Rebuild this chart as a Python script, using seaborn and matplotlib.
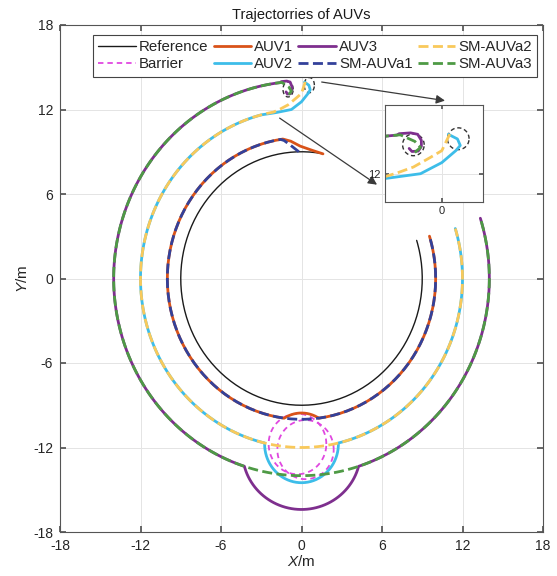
import numpy as np
import matplotlib
matplotlib.use("Agg")
import matplotlib.pyplot as plt
import seaborn as sns

# ---- values (metres / degrees) ----
# each arc: (centre x, centre y, radius x, radius y, start angle, end angle)
REF_ARC = (0, 0, 9.0, 9.0, 80, 377.5)

AUV1_HOOK_X = [1.6, 0.8, -0.1, -0.8, -1.39]
AUV1_HOOK_Y = [8.85, 9.1, 9.4, 9.75, 9.9]
AUV1_ARCS = [(0, 0, 10, 10, 98, 262.5), (0, -12, 2.45, 2.45, 122, 58),
             (0, 0, 10, 10, 277.5, 377.5)]

SM1_HOOK_X = [-0.2, -0.8, -1.3]
SM1_HOOK_Y = [9.0, 9.45, 9.8]
SM1_ARCS = [(0, 0, 10, 10, 99, 377.5)]

AUV2_HOOK_X = [0.23, 0.55, 0.65, 0.5, 0.0, -0.75, -1.9]
AUV2_HOOK_Y = [13.95, 13.72, 13.4, 13.15, 12.55, 12.0, 11.78]
AUV2_ARCS = [(0, 0, 12, 12, 104.5, 256.75), (0, -11.75, 2.75, 2.75, 180, 360),
             (0, 0, 12, 12, 283.25, 377.2)]

SM2_HOOK_X = [0.28, 0.0, -0.41, -1.0, -1.55]
SM2_HOOK_Y = [13.96, 13.14, 12.8, 12.33, 12.05]
SM2_ARCS = [(0, 0, 12, 12, 100, 377.2)]

AUV3_HOOK_X = [-1.15, -1.05, -0.83, -0.72, -0.72, -0.85, -1.1, -1.5]
AUV3_HOOK_Y = [13.25, 13.1, 13.12, 13.35, 13.65, 13.95, 14.02, 13.98]
AUV3_ARCS = [(0, 0, 14, 14, 96.5, 252.3), (0, -12.3, 4.4, 4.1, 195, 345),
             (0, 0, 14, 14, 287.7, 377.8)]

SM3_HOOK_X = [-0.95, -0.75, -0.95, -1.35]
SM3_HOOK_Y = [13.05, 13.3, 13.6, 13.85]
SM3_ARCS = [(0, 0, 14, 14, 96, 377.8)]

BARRIERS = [(-0.3, -11.75, 2.15, 2.15, 0, 360), (0.3, -12.15, 2.1, 2.1, 0, 360)]
OBSTACLES = [(-1.0, 13.43, 0.38, 0.54, 0, 360), (0.58, 13.73, 0.38, 0.54, 0, 360)]

TICKS = [-18, -12, -6, 0, 6, 12, 18]
INSET_XLIM = (-2.0, 1.45)
INSET_YLIM = (10.6, 15.4)

COLORS = {
    "Reference": "#1a1a1a", "Barrier": "#e048e0",
    "AUV1": "#d95319", "AUV2": "#3dbde9", "AUV3": "#7e2f8e",
    "SM-AUVa1": "#33419a", "SM-AUVa2": "#f9c95b", "SM-AUVa3": "#4e9a45",
}


def arc(cx, cy, rx, ry, a0, a1):
    n = max(int(abs(a1 - a0) / 1.5), 8)
    t = np.radians(np.linspace(a0, a1, n))
    return cx + rx * np.cos(t), cy + ry * np.sin(t)


def build(hx, hy, arcs):
    xs, ys = [np.asarray(hx, float)], [np.asarray(hy, float)]
    for a in arcs:
        x, y = arc(*a)
        xs.append(x)
        ys.append(y)
    return np.concatenate(xs), np.concatenate(ys)


paths = {
    "Reference": build([], [], [REF_ARC]),
    "AUV1": build(AUV1_HOOK_X, AUV1_HOOK_Y, AUV1_ARCS),
    "AUV2": build(AUV2_HOOK_X, AUV2_HOOK_Y, AUV2_ARCS),
    "AUV3": build(AUV3_HOOK_X, AUV3_HOOK_Y, AUV3_ARCS),
    "SM-AUVa1": build(SM1_HOOK_X, SM1_HOOK_Y, SM1_ARCS),
    "SM-AUVa2": build(SM2_HOOK_X, SM2_HOOK_Y, SM2_ARCS),
    "SM-AUVa3": build(SM3_HOOK_X, SM3_HOOK_Y, SM3_ARCS),
}

DASH = (0, (3.6, 1.6))
STYLES = {
    "Reference": dict(lw=1.0, linestyle="-"),
    "AUV1": dict(lw=2.0, linestyle="-"),
    "AUV2": dict(lw=2.0, linestyle="-"),
    "AUV3": dict(lw=2.0, linestyle="-"),
    "SM-AUVa1": dict(lw=2.0, linestyle=DASH),
    "SM-AUVa2": dict(lw=2.0, linestyle=DASH),
    "SM-AUVa3": dict(lw=2.0, linestyle=DASH),
}

sns.set_theme(style="ticks")
plt.rcParams["font.family"] = ["Liberation Sans", "DejaVu Sans"]
plt.rcParams["mathtext.fontset"] = "custom"
plt.rcParams["mathtext.it"] = "Liberation Sans:italic"
plt.rcParams["mathtext.rm"] = "Liberation Sans"
plt.rcParams["axes.unicode_minus"] = False


def draw(ax, with_labels):
    for bx in BARRIERS:
        x, y = arc(*bx)
        lab = "Barrier" if (with_labels and bx is BARRIERS[0]) else None
        sns.lineplot(x=x, y=y, sort=False, estimator=None, ax=ax, color=COLORS["Barrier"],
                     lw=1.3, linestyle=(0, (3, 2.2)), label=lab, legend=False)
    for ob in OBSTACLES:
        x, y = arc(*ob)
        sns.lineplot(x=x, y=y, sort=False, estimator=None, ax=ax, color="#333333",
                     lw=1.0, linestyle=(0, (3, 2)), legend=False)
    for name in ["Reference", "AUV1", "AUV2", "AUV3", "SM-AUVa1", "SM-AUVa2", "SM-AUVa3"]:
        x, y = paths[name]
        sns.lineplot(x=x, y=y, sort=False, estimator=None, ax=ax, color=COLORS[name],
                     label=name if with_labels else None, legend=False,
                     solid_capstyle="round", **STYLES[name])


fig = plt.figure(figsize=(5.57, 5.76), dpi=100)
ax = fig.add_axes([60 / 557, 1 - 532 / 576, 483 / 557, 507 / 576])
draw(ax, True)

ax.set_xlim(-18, 18)
ax.set_ylim(-18, 18)
ax.set_xticks(TICKS)
ax.set_yticks(TICKS)
ax.grid(True, color="#e4e4e4", lw=0.7)
ax.tick_params(direction="in", top=True, right=True, labelsize=10, color="#555555",
               labelcolor="#262626", length=4, pad=5)
for s in ax.spines.values():
    s.set_color("#555555")
    s.set_linewidth(0.8)
ax.set_title("Trajectorries of AUVs", fontsize=10.5, pad=4, color="#1a1a1a")
ax.set_xlabel("$X$/m", fontsize=11, labelpad=1)
ax.set_ylabel("$Y$/m", fontsize=11, labelpad=2)

handles, labels = ax.get_legend_handles_labels()
order = ["Reference", "Barrier", "AUV1", "AUV2", "AUV3", "SM-AUVa1", "SM-AUVa2", "SM-AUVa3"]
hmap = dict(zip(labels, handles))
leg = ax.legend([hmap[k] for k in order], order, ncol=4, loc="upper right",
                bbox_to_anchor=(0.988, 0.98), borderaxespad=0, fontsize=10.8,
                frameon=True, fancybox=False, framealpha=1, edgecolor="#444444",
                handlelength=2.5, handletextpad=0.2, columnspacing=0.35,
                labelspacing=0.2, borderpad=0.35)
leg.get_frame().set_linewidth(0.8)

# magnifier arrows
arrow = dict(arrowstyle="-|>", color="#3a3a3a", lw=0.9, mutation_scale=13)
ax.annotate("", xy=(10.9, 12.6), xytext=(1.3, 13.98), arrowprops=arrow)
ax.annotate("", xy=(5.8, 6.55), xytext=(-1.8, 11.5), arrowprops=arrow)

# inset
axi = fig.add_axes([385 / 557, 1 - 202 / 576, 98 / 557, 97 / 576])
draw(axi, False)
axi.set_xlim(*INSET_XLIM)
axi.set_ylim(*INSET_YLIM)
axi.set_xticks([0])
axi.set_yticks([12])
axi.set_facecolor("white")
axi.grid(True, color="#e4e4e4", lw=0.7)
axi.tick_params(direction="in", top=True, right=True, labelsize=8, color="#555555",
                labelcolor="#262626", length=3, pad=3)
for s in axi.spines.values():
    s.set_color("#555555")
    s.set_linewidth(0.8)

fig.savefig("out.png", dpi=100)
